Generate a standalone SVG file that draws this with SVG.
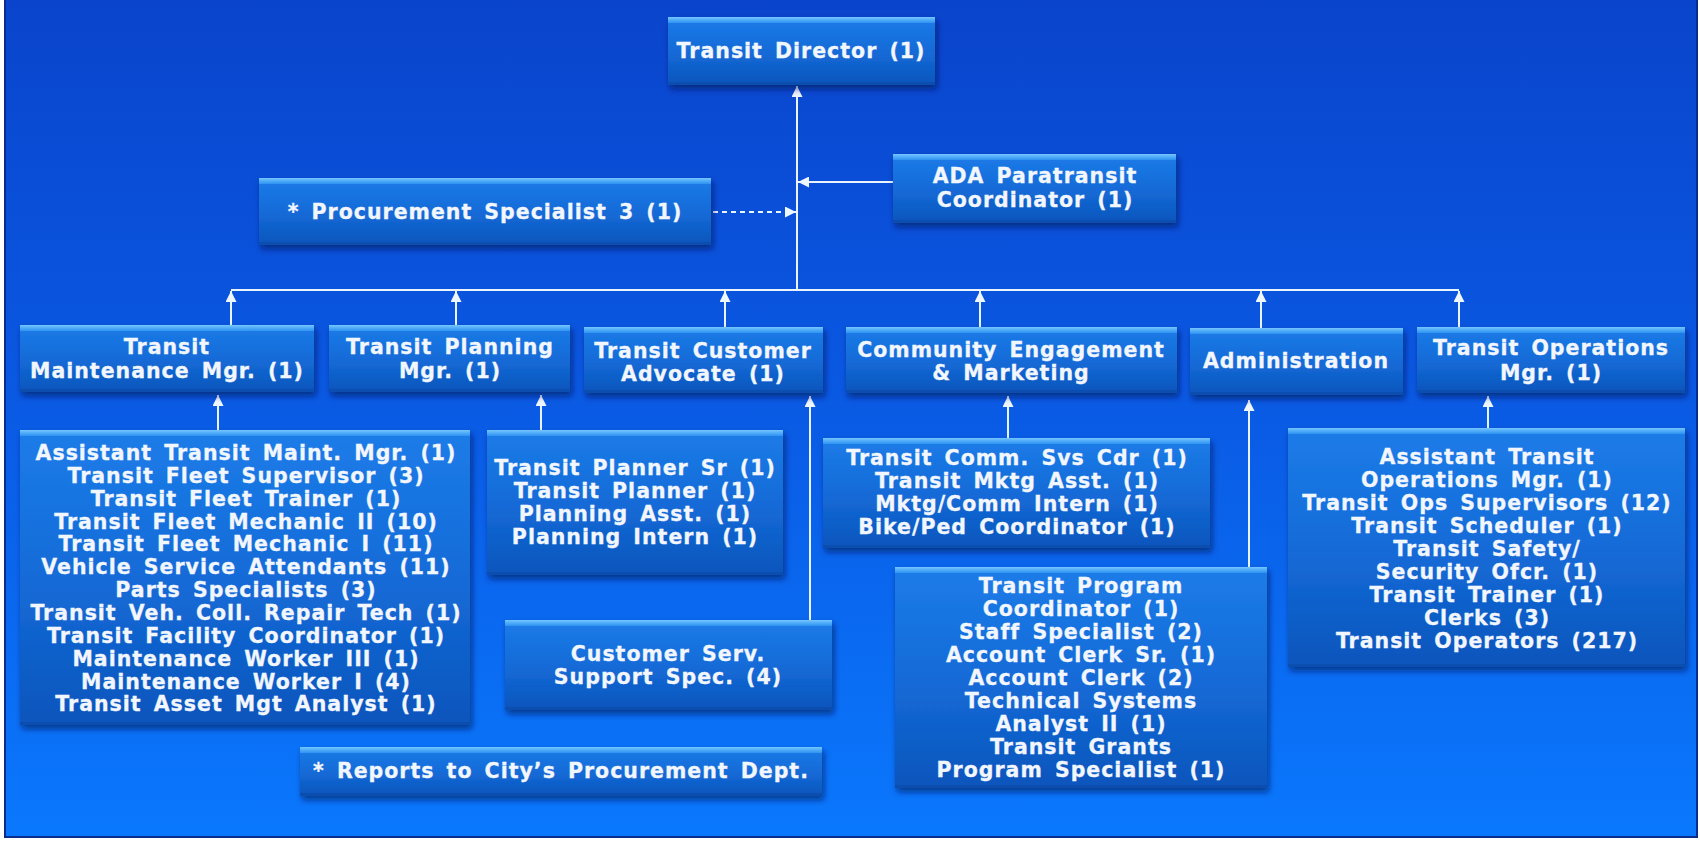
<svg xmlns="http://www.w3.org/2000/svg" width="1700" height="841" viewBox="0 0 1700 841">
<defs>
<linearGradient id="bg" x1="0" y1="0" x2="0" y2="1">
<stop offset="0" stop-color="#0a44cc"/>
<stop offset="0.45" stop-color="#0a58e2"/>
<stop offset="1" stop-color="#0a78fd"/>
</linearGradient>
<linearGradient id="body" x1="0" y1="0" x2="0" y2="1">
<stop offset="0" stop-color="#1c7ce8"/>
<stop offset="0.5" stop-color="#146bd8"/>
<stop offset="1" stop-color="#0c55bc"/>
</linearGradient>
<linearGradient id="hl" x1="0" y1="0" x2="0" y2="1">
<stop offset="0" stop-color="#74c6ff"/>
<stop offset="1" stop-color="#2d92f2"/>
</linearGradient>
<filter id="sh" x="-10%" y="-10%" width="125%" height="130%">
<feDropShadow dx="2" dy="4" stdDeviation="3" flood-color="#00124d" flood-opacity="0.6"/>
</filter>
<marker id="ah" viewBox="0 0 10 10" refX="10" refY="5" markerWidth="11" markerHeight="11" markerUnits="userSpaceOnUse" orient="auto">
<path d="M0,0 L10,5 L0,10 z" fill="#eef6ff"/>
</marker>
<style>
.box{fill:url(#body);filter:url(#sh)}
.hl{fill:url(#hl)}
.bt{fill:#0b4eb0}
.t{font-family:"DejaVu Sans",Verdana,sans-serif;font-weight:bold;font-size:20.5px;fill:#f2f6ff;stroke:#f2f6ff;stroke-width:0.3;text-anchor:middle;letter-spacing:1px;word-spacing:4px}
.c{stroke:#eaf4ff;stroke-width:2;fill:none}
.ca{stroke:#eaf4ff;stroke-width:2;fill:none;marker-end:url(#ah)}
</style>
</defs>
<rect x="0" y="0" width="1700" height="841" fill="#ffffff"/>
<rect x="5" y="-2" width="1692" height="839" fill="url(#bg)" stroke="#0a2c8c" stroke-width="2"/>

<g id="connectors">
<line class="ca" x1="797" y1="290" x2="797" y2="86"/>
<line class="ca" x1="893" y1="182" x2="798" y2="182"/>
<line class="ca" x1="713" y1="212" x2="796" y2="212" stroke-dasharray="5,4"/>
<line class="c" x1="231" y1="290" x2="1459" y2="290"/>
<line class="ca" x1="231" y1="325" x2="231" y2="291"/>
<line class="ca" x1="456" y1="325" x2="456" y2="291"/>
<line class="ca" x1="725" y1="327" x2="725" y2="291"/>
<line class="ca" x1="980" y1="327" x2="980" y2="291"/>
<line class="ca" x1="1261" y1="328" x2="1261" y2="291"/>
<line class="ca" x1="1459" y1="327" x2="1459" y2="291"/>
<line class="ca" x1="218" y1="430" x2="218" y2="395"/>
<line class="ca" x1="541" y1="430" x2="541" y2="395"/>
<line class="ca" x1="810" y1="620" x2="810" y2="396"/>
<line class="ca" x1="1008" y1="438" x2="1008" y2="396"/>
<line class="ca" x1="1249" y1="567" x2="1249" y2="400"/>
<line class="ca" x1="1488" y1="428" x2="1488" y2="396"/>
</g>

<g id="director">
<rect class="box" x="668" y="17" width="267" height="68"/>
<rect class="hl" x="668" y="17" width="267" height="6"/>
<rect class="bt" x="668" y="82" width="267" height="3"/>
<text class="t" x="801" y="58">Transit Director (1)</text>
</g>

<g id="ada">
<rect class="box" x="893" y="154" width="283" height="69"/>
<rect class="hl" x="893" y="154" width="283" height="6"/>
<rect class="bt" x="893" y="220" width="283" height="3"/>
<text class="t" x="1035" y="183">ADA Paratransit</text>
<text class="t" x="1035" y="207">Coordinator (1)</text>
</g>

<g id="procurement">
<rect class="box" x="259" y="178" width="452" height="67"/>
<rect class="hl" x="259" y="178" width="452" height="6"/>
<rect class="bt" x="259" y="242" width="452" height="3"/>
<text class="t" x="485" y="219">* Procurement Specialist 3 (1)</text>
</g>

<g id="maint-mgr">
<rect class="box" x="20" y="325" width="294" height="67"/>
<rect class="hl" x="20" y="325" width="294" height="6"/>
<rect class="bt" x="20" y="389" width="294" height="3"/>
<text class="t" x="167" y="354">Transit</text>
<text class="t" x="167" y="378">Maintenance Mgr. (1)</text>
</g>

<g id="planning-mgr">
<rect class="box" x="329" y="325" width="241" height="67"/>
<rect class="hl" x="329" y="325" width="241" height="6"/>
<rect class="bt" x="329" y="389" width="241" height="3"/>
<text class="t" x="450" y="354">Transit Planning</text>
<text class="t" x="450" y="378">Mgr. (1)</text>
</g>

<g id="customer-advocate">
<rect class="box" x="584" y="327" width="239" height="66"/>
<rect class="hl" x="584" y="327" width="239" height="6"/>
<rect class="bt" x="584" y="390" width="239" height="3"/>
<text class="t" x="703" y="358">Transit Customer</text>
<text class="t" x="703" y="381">Advocate (1)</text>
</g>

<g id="community">
<rect class="box" x="846" y="327" width="331" height="66"/>
<rect class="hl" x="846" y="327" width="331" height="6"/>
<rect class="bt" x="846" y="390" width="331" height="3"/>
<text class="t" x="1011" y="357">Community Engagement</text>
<text class="t" x="1011" y="380">&amp; Marketing</text>
</g>

<g id="administration">
<rect class="box" x="1190" y="328" width="213" height="67"/>
<rect class="hl" x="1190" y="328" width="213" height="6"/>
<rect class="bt" x="1190" y="392" width="213" height="3"/>
<text class="t" x="1296" y="368">Administration</text>
</g>

<g id="operations-mgr">
<rect class="box" x="1417" y="327" width="268" height="66"/>
<rect class="hl" x="1417" y="327" width="268" height="6"/>
<rect class="bt" x="1417" y="390" width="268" height="3"/>
<text class="t" x="1551" y="355">Transit Operations</text>
<text class="t" x="1551" y="380">Mgr. (1)</text>
</g>

<g id="maint-staff">
<rect class="box" x="20" y="430" width="450" height="295"/>
<rect class="hl" x="20" y="430" width="450" height="6"/>
<rect class="bt" x="20" y="722" width="450" height="3"/>
<text class="t" x="246" y="460">Assistant Transit Maint. Mgr. (1)</text>
<text class="t" x="246" y="482.9">Transit Fleet Supervisor (3)</text>
<text class="t" x="246" y="505.7">Transit Fleet Trainer (1)</text>
<text class="t" x="246" y="528.6">Transit Fleet Mechanic II (10)</text>
<text class="t" x="246" y="551.4">Transit Fleet Mechanic I (11)</text>
<text class="t" x="246" y="574.3">Vehicle Service Attendants (11)</text>
<text class="t" x="246" y="597.1">Parts Specialists (3)</text>
<text class="t" x="246" y="620">Transit Veh. Coll. Repair Tech (1)</text>
<text class="t" x="246" y="642.8">Transit Facility Coordinator (1)</text>
<text class="t" x="246" y="665.7">Maintenance Worker III (1)</text>
<text class="t" x="246" y="688.5">Maintenance Worker I (4)</text>
<text class="t" x="246" y="711.4">Transit Asset Mgt Analyst (1)</text>
</g>

<g id="planning-staff">
<rect class="box" x="487" y="430" width="296" height="145"/>
<rect class="hl" x="487" y="430" width="296" height="6"/>
<rect class="bt" x="487" y="572" width="296" height="3"/>
<text class="t" x="635" y="475">Transit Planner Sr (1)</text>
<text class="t" x="635" y="498">Transit Planner (1)</text>
<text class="t" x="635" y="521">Planning Asst. (1)</text>
<text class="t" x="635" y="544">Planning Intern (1)</text>
</g>

<g id="customer-support">
<rect class="box" x="505" y="620" width="327" height="90"/>
<rect class="hl" x="505" y="620" width="327" height="6"/>
<rect class="bt" x="505" y="707" width="327" height="3"/>
<text class="t" x="668" y="661">Customer Serv.</text>
<text class="t" x="668" y="684">Support Spec. (4)</text>
</g>

<g id="reports-note">
<rect class="box" x="300" y="747" width="522" height="49"/>
<rect class="hl" x="300" y="747" width="522" height="6"/>
<rect class="bt" x="300" y="793" width="522" height="3"/>
<text class="t" x="561" y="778">* Reports to City’s Procurement Dept.</text>
</g>

<g id="community-staff">
<rect class="box" x="823" y="438" width="387" height="110"/>
<rect class="hl" x="823" y="438" width="387" height="6"/>
<rect class="bt" x="823" y="545" width="387" height="3"/>
<text class="t" x="1017" y="465">Transit Comm. Svs Cdr (1)</text>
<text class="t" x="1017" y="488">Transit Mktg Asst. (1)</text>
<text class="t" x="1017" y="511">Mktg/Comm Intern (1)</text>
<text class="t" x="1017" y="534">Bike/Ped Coordinator (1)</text>
</g>

<g id="admin-staff">
<rect class="box" x="895" y="567" width="372" height="221"/>
<rect class="hl" x="895" y="567" width="372" height="6"/>
<rect class="bt" x="895" y="785" width="372" height="3"/>
<text class="t" x="1081" y="593">Transit Program</text>
<text class="t" x="1081" y="616">Coordinator (1)</text>
<text class="t" x="1081" y="639">Staff Specialist (2)</text>
<text class="t" x="1081" y="662">Account Clerk Sr. (1)</text>
<text class="t" x="1081" y="685">Account Clerk (2)</text>
<text class="t" x="1081" y="708">Technical Systems</text>
<text class="t" x="1081" y="731">Analyst II (1)</text>
<text class="t" x="1081" y="754">Transit Grants</text>
<text class="t" x="1081" y="777">Program Specialist (1)</text>
</g>

<g id="operations-staff">
<rect class="box" x="1288" y="428" width="397" height="239"/>
<rect class="hl" x="1288" y="428" width="397" height="6"/>
<rect class="bt" x="1288" y="664" width="397" height="3"/>
<text class="t" x="1487" y="464">Assistant Transit</text>
<text class="t" x="1487" y="487">Operations Mgr. (1)</text>
<text class="t" x="1487" y="510">Transit Ops Supervisors (12)</text>
<text class="t" x="1487" y="533">Transit Scheduler (1)</text>
<text class="t" x="1487" y="556">Transit Safety/</text>
<text class="t" x="1487" y="579">Security Ofcr. (1)</text>
<text class="t" x="1487" y="602">Transit Trainer (1)</text>
<text class="t" x="1487" y="625">Clerks (3)</text>
<text class="t" x="1487" y="648">Transit Operators (217)</text>
</g>
</svg>
